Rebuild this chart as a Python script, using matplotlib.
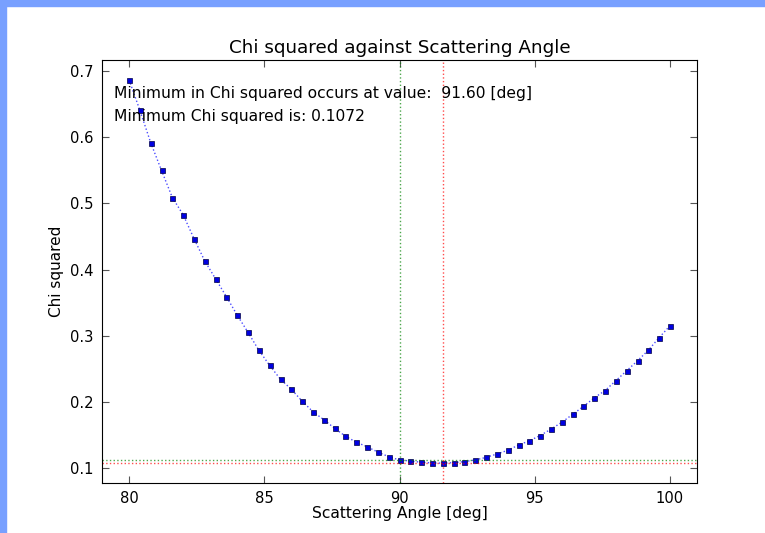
import numpy as np
import matplotlib
matplotlib.use("Agg")
import matplotlib.pyplot as plt
from matplotlib.patches import Rectangle

# scattering angles [deg] and chi squared
angle = [80.0, 80.4, 80.8, 81.2, 81.6, 82.0, 82.4, 82.8, 83.2, 83.6,
         84.0, 84.4, 84.8, 85.2, 85.6, 86.0, 86.4, 86.8, 87.2, 87.6,
         88.0, 88.4, 88.8, 89.2, 89.6, 90.0, 90.4, 90.8, 91.2, 91.6,
         92.0, 92.4, 92.8, 93.2, 93.6, 94.0, 94.4, 94.8, 95.2, 95.6,
         96.0, 96.4, 96.8, 97.2, 97.6, 98.0, 98.4, 98.8, 99.2, 99.6,
         100.0]
chi2 = [0.687, 0.641, 0.592, 0.550, 0.509, 0.483, 0.447, 0.413, 0.386, 0.359,
        0.331, 0.305, 0.278, 0.255, 0.234, 0.219, 0.201, 0.185, 0.173, 0.160,
        0.148, 0.139, 0.132, 0.124, 0.117, 0.112, 0.1105, 0.1085, 0.1076, 0.1072,
        0.1080, 0.1095, 0.112, 0.116, 0.121, 0.1266, 0.1346, 0.141, 0.149, 0.1586,
        0.169, 0.181, 0.193, 0.206, 0.217, 0.232, 0.247, 0.262, 0.278, 0.297,
        0.315]

ref_angle = 90.0
chi2_ref = chi2[angle.index(ref_angle)]
i_min = int(np.argmin(chi2))
min_angle = angle[i_min]
min_chi2 = 0.1072

fig = plt.figure(figsize=(7.65, 5.33), dpi=100)
fig.patch.set_facecolor("white")
# blue frame of the screenshot (top and left)
fig.add_artist(Rectangle((0, 1 - 6 / 533), 1, 6 / 533, transform=fig.transFigure,
                         color="#78a0ff", zorder=0))
fig.add_artist(Rectangle((0, 0), 6 / 765, 1, transform=fig.transFigure,
                         color="#78a0ff", zorder=0))

ax = fig.add_axes([102 / 765, 50 / 533, 595 / 765, 423 / 533])

ax.plot(angle, chi2, "b:", lw=1, alpha=0.7)
ax.plot(angle, chi2, "s", color="#0000e0", markersize=3.6,
        markeredgecolor="#000044", markeredgewidth=0.5)

ax.axvline(ref_angle, color="g", ls=":", lw=1, alpha=0.7)
ax.axhline(chi2_ref, color="g", ls=":", lw=1, alpha=0.7)
ax.axvline(min_angle, color="r", ls=":", lw=1, alpha=0.7)
ax.axhline(min_chi2, color="r", ls=":", lw=1, alpha=0.7)

ax.set_xlim(79, 101)
ax.set_ylim(min(chi2) - 0.03, max(chi2) + 0.03)
ax.set_xticks([80, 85, 90, 95, 100])
ax.set_yticks([0.1, 0.2, 0.3, 0.4, 0.5, 0.6, 0.7])
ax.tick_params(direction="in", top=True, right=True, length=5,
               color="#555555", labelsize=10.6, pad=6)

ax.text(0.02, 0.92, "Minimum in Chi squared occurs at value:  %.2f [deg]" % min_angle,
        transform=ax.transAxes, fontsize=11.2, va="center")
ax.text(0.02, 0.867, "Minimum Chi squared is: %.4f" % min_chi2,
        transform=ax.transAxes, fontsize=11.2, va="center")

ax.set_title("Chi squared against Scattering Angle", fontsize=13.2, pad=5)
ax.set_xlabel("Scattering Angle [deg]", fontsize=11.2, labelpad=0)
ax.set_ylabel("Chi squared", fontsize=11)

fig.savefig("out.png", dpi=100)
